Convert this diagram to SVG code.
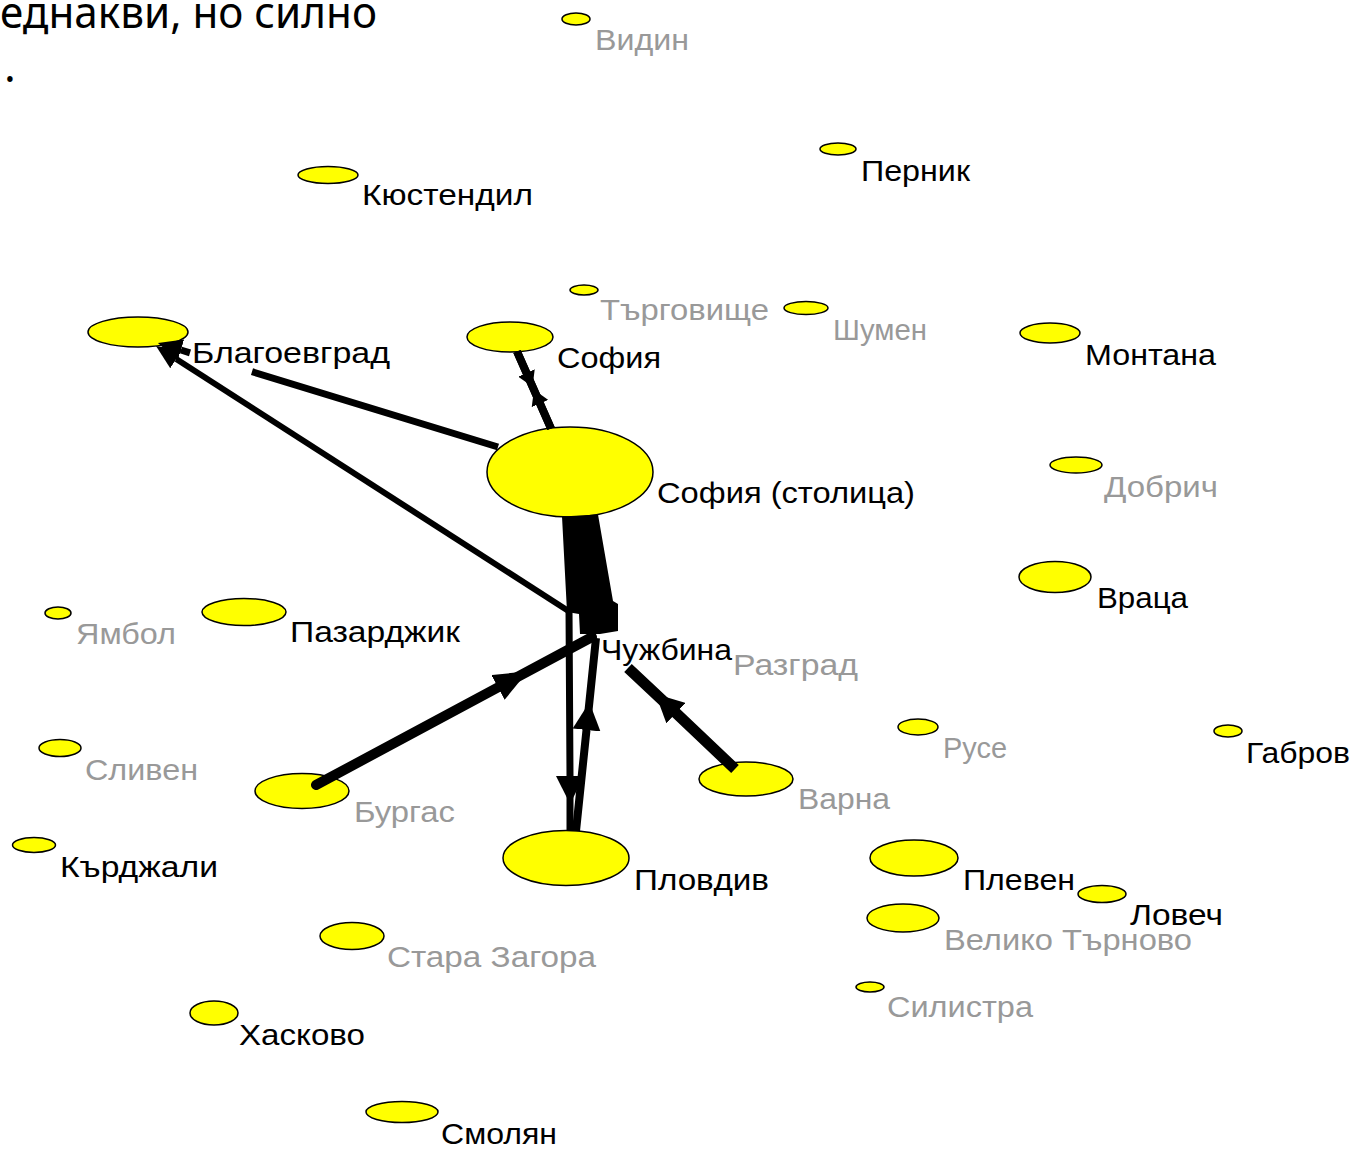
<svg xmlns="http://www.w3.org/2000/svg" width="1361" height="1149" viewBox="0 0 1361 1149">
<style>
.n{fill:#ffff00;stroke:#000;stroke-width:1.5}
.t{font-family:"Liberation Sans",Arial,sans-serif;font-size:30px;fill:#000}
.g{fill:#999}
.e{fill:none;stroke:#000;stroke-linejoin:miter}
.h{font-family:"Noto Sans","Open Sans",sans-serif;font-size:44px;fill:#000}
</style>
<defs>
<marker id="ahL" markerUnits="userSpaceOnUse" markerWidth="34" markerHeight="28" viewBox="0 0 34 28" refX="0" refY="14" orient="auto"><path d="M0,0 L34,14 L0,28 z" fill="#000"/></marker>
<marker id="ahM" markerUnits="userSpaceOnUse" markerWidth="28" markerHeight="28" viewBox="0 0 28 28" refX="0" refY="14" orient="auto"><path d="M0,0 L28,14 L0,28 z" fill="#000"/></marker>
<marker id="ahB" markerUnits="userSpaceOnUse" markerWidth="24" markerHeight="22" viewBox="0 0 24 22" refX="0" refY="11" orient="auto"><path d="M0,0 L24,11 L0,22 z" fill="#000"/></marker>
<marker id="ahS" markerUnits="userSpaceOnUse" markerWidth="15" markerHeight="18" viewBox="0 0 15 18" refX="0" refY="9" orient="auto"><path d="M0,0 L15,9 L0,18 z" fill="#000"/></marker>
</defs>
<rect width="1361" height="1149" fill="#fff"/>
<g id="caption">
<text class="h" x="0" y="28" textLength="377" lengthAdjust="spacingAndGlyphs">еднакви, но силно</text>
<text class="h" x="4" y="82">.</text>
</g>
<g id="nodes">
<g id="n-vidin"><ellipse class="n" cx="576" cy="19" rx="14" ry="6"/><text class="t g" x="595" y="50" textLength="94" lengthAdjust="spacingAndGlyphs">Видин</text></g>
<g id="n-kyustendil"><ellipse class="n" cx="328" cy="175" rx="30" ry="8.5"/><text class="t" x="362" y="205" textLength="171" lengthAdjust="spacingAndGlyphs">Кюстендил</text></g>
<g id="n-pernik"><ellipse class="n" cx="838" cy="149" rx="18" ry="6"/><text class="t" x="861" y="181" textLength="109" lengthAdjust="spacingAndGlyphs">Перник</text></g>
<g id="n-targovishte"><ellipse class="n" cx="584" cy="290" rx="14" ry="5"/><text class="t g" x="600" y="320" textLength="169" lengthAdjust="spacingAndGlyphs">Търговище</text></g>
<g id="n-shumen"><ellipse class="n" cx="806" cy="308" rx="22" ry="6.5"/><text class="t g" x="833" y="340" textLength="94" lengthAdjust="spacingAndGlyphs">Шумен</text></g>
<g id="n-montana"><ellipse class="n" cx="1050" cy="333" rx="30" ry="10"/><text class="t" x="1085" y="365" textLength="131" lengthAdjust="spacingAndGlyphs">Монтана</text></g>
<g id="n-blagoevgrad"><ellipse class="n" cx="138" cy="332" rx="50" ry="15"/><text class="t" x="192" y="363" textLength="198" lengthAdjust="spacingAndGlyphs">Благоевград</text></g>
<g id="n-sofia"><ellipse class="n" cx="510" cy="337" rx="43" ry="15"/><text class="t" x="557" y="368" textLength="104" lengthAdjust="spacingAndGlyphs">София</text></g>
<g id="n-sofia-capital"><ellipse class="n" cx="570" cy="472" rx="83" ry="45"/><text class="t" x="657" y="503" textLength="258" lengthAdjust="spacingAndGlyphs">София (столица)</text></g>
<g id="n-dobrich"><ellipse class="n" cx="1076" cy="465" rx="26" ry="8"/><text class="t g" x="1104" y="497" textLength="114" lengthAdjust="spacingAndGlyphs">Добрич</text></g>
<g id="n-vratsa"><ellipse class="n" cx="1055" cy="577" rx="36" ry="15.5"/><text class="t" x="1097" y="608" textLength="91" lengthAdjust="spacingAndGlyphs">Враца</text></g>
<g id="n-yambol"><ellipse class="n" cx="58" cy="613" rx="13" ry="6"/><text class="t g" x="76" y="644" textLength="100" lengthAdjust="spacingAndGlyphs">Ямбол</text></g>
<g id="n-pazardzhik"><ellipse class="n" cx="244" cy="612" rx="42" ry="13.5"/><text class="t" x="290" y="642" textLength="170" lengthAdjust="spacingAndGlyphs">Пазарджик</text></g>
<g id="n-chuzhbina"><text class="t" x="601" y="660" textLength="131" lengthAdjust="spacingAndGlyphs">Чужбина</text></g>
<g id="n-razgrad"><text class="t g" x="733" y="675" textLength="125" lengthAdjust="spacingAndGlyphs">Разград</text></g>
<g id="n-ruse"><ellipse class="n" cx="918" cy="727" rx="20" ry="8"/><text class="t g" x="943" y="758" textLength="64" lengthAdjust="spacingAndGlyphs">Русе</text></g>
<g id="n-gabrovo"><ellipse class="n" cx="1228" cy="731" rx="14" ry="6"/><text class="t" x="1246" y="763" textLength="104" lengthAdjust="spacingAndGlyphs">Габров</text></g>
<g id="n-sliven"><ellipse class="n" cx="60" cy="748" rx="21" ry="8.5"/><text class="t g" x="85" y="780" textLength="113" lengthAdjust="spacingAndGlyphs">Сливен</text></g>
<g id="n-burgas"><ellipse class="n" cx="302" cy="791" rx="47" ry="17.5"/><text class="t g" x="354" y="822" textLength="101" lengthAdjust="spacingAndGlyphs">Бургас</text></g>
<g id="n-varna"><ellipse class="n" cx="746" cy="779" rx="47" ry="17"/><text class="t g" x="798" y="809" textLength="92" lengthAdjust="spacingAndGlyphs">Варна</text></g>
<g id="n-plovdiv"><ellipse class="n" cx="566" cy="858" rx="63" ry="27.5"/><text class="t" x="634" y="890" textLength="135" lengthAdjust="spacingAndGlyphs">Пловдив</text></g>
<g id="n-pleven"><ellipse class="n" cx="914" cy="858" rx="44" ry="18"/><text class="t" x="963" y="890" textLength="112" lengthAdjust="spacingAndGlyphs">Плевен</text></g>
<g id="n-veliko-tarnovo"><ellipse class="n" cx="903" cy="918" rx="36" ry="14"/><text class="t g" x="944" y="950" textLength="248" lengthAdjust="spacingAndGlyphs">Велико Търново</text></g>
<g id="n-lovech"><ellipse class="n" cx="1102" cy="894" rx="24" ry="8.5"/><text class="t" x="1130" y="925" textLength="93" lengthAdjust="spacingAndGlyphs">Ловеч</text></g>
<g id="n-kardzhali"><ellipse class="n" cx="34" cy="845" rx="21.5" ry="7.5"/><text class="t" x="60" y="877" textLength="158" lengthAdjust="spacingAndGlyphs">Кърджали</text></g>
<g id="n-stara-zagora"><ellipse class="n" cx="352" cy="936" rx="32" ry="13.5"/><text class="t g" x="387" y="967" textLength="209" lengthAdjust="spacingAndGlyphs">Стара Загора</text></g>
<g id="n-silistra"><ellipse class="n" cx="870" cy="987" rx="14" ry="5"/><text class="t g" x="887" y="1017" textLength="146" lengthAdjust="spacingAndGlyphs">Силистра</text></g>
<g id="n-haskovo"><ellipse class="n" cx="214" cy="1013" rx="24" ry="12"/><text class="t" x="239" y="1045" textLength="126" lengthAdjust="spacingAndGlyphs">Хасково</text></g>
<g id="n-smolyan"><ellipse class="n" cx="402" cy="1112" rx="36" ry="10.5"/><text class="t" x="441" y="1144" textLength="116" lengthAdjust="spacingAndGlyphs">Смолян</text></g>
</g>
<g id="connectors">
<polygon id="e-capital-chuzhbina" points="562,516.5 598,514.5 613,601 618,604 618,631 600,634 580,634 579,614 567,612" fill="#000"/>
<polyline id="e-sofia-capital" class="e" stroke-width="8" points="517,351.5 526.5,373 551,428.5" marker-mid="url(#ahS)"/>
<polyline id="e-capital-sofia" class="e" stroke-width="8" points="551,428.5 540,403.5 517,351.5" marker-mid="url(#ahS)"/>
<path id="e-capital-blagoevgrad" class="e" stroke-width="7" d="M498,447 L252,371.7 M190,352.8 L180.9,350" marker-end="url(#ahB)"/>
<path id="e-chuzhbina-blagoevgrad" class="e" stroke-width="6" d="M570,612 L176.2,359" marker-end="url(#ahB)"/>
<polyline id="e-chuzhbina-plovdiv" class="e" stroke-width="7" points="569,608 570,776 570,831" marker-mid="url(#ahM)"/>
<polyline id="e-plovdiv-chuzhbina" class="e" stroke-width="8" points="576,831 586.5,730 596,638" marker-mid="url(#ahM)"/>
<polyline id="e-burgas-chuzhbina" class="e" stroke-width="10" stroke-linecap="round" points="316,785 498,687.4 592,637" marker-mid="url(#ahL)"/>
<polyline id="e-varna-chuzhbina" class="e" stroke-width="11" points="735,769 676,713.1 628,668" marker-mid="url(#ahM)"/>
</g>
</svg>
